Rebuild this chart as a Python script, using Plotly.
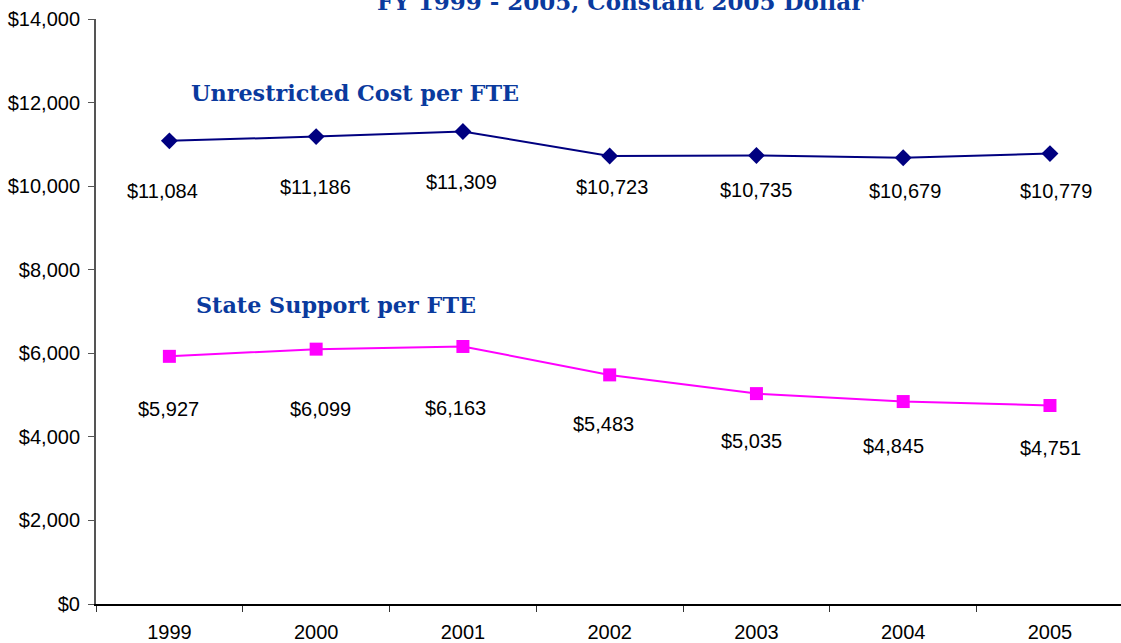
import plotly.graph_objects as go

years = ["1999", "2000", "2001", "2002", "2003", "2004", "2005"]
unrestricted = [11084, 11186, 11309, 10723, 10735, 10679, 10779]
state = [5927, 6099, 6163, 5483, 5035, 4845, 4751]
y_ticks = [0, 2000, 4000, 6000, 8000, 10000, 12000, 14000]
y_tick_text = ["$0", "$2,000", "$4,000", "$6,000", "$8,000", "$10,000", "$12,000", "$14,000"]

# label offsets (pixels) relative to points, as in the original layout
unr_dy = [-50, -50, -51, -31, -35, -33, -37]
unr_dx = [-7, -1, -1, 2, 0, 2, 6]
st_dy = [-53, -60, -62, -49, -47, -44, -43]
st_dx = [-1, 4, -7, -6, -5, -10, 1]

navy = "#000080"
magenta = "#FF00FF"
label_blue = "#0A3A9E"
sans = "Liberation Sans, Arial, sans-serif"
serif = "DejaVu Serif, serif"

fig = go.Figure()
fig.add_trace(go.Scatter(
    x=years, y=unrestricted, mode="lines+markers",
    line=dict(color=navy, width=2),
    marker=dict(symbol="diamond", size=13, color=navy),
    showlegend=False, hoverinfo="skip"))
fig.add_trace(go.Scatter(
    x=years, y=state, mode="lines+markers",
    line=dict(color=magenta, width=2),
    marker=dict(symbol="square", size=13, color=magenta),
    showlegend=False, hoverinfo="skip"))

anns = []
for i, (v, dx, dy) in enumerate(zip(unrestricted, unr_dx, unr_dy)):
    anns.append(dict(x=i, y=v, text=f"${v:,}", showarrow=False,
                     xshift=dx, yshift=dy, font=dict(family=sans, size=20, color="black")))
for i, (v, dx, dy) in enumerate(zip(state, st_dx, st_dy)):
    anns.append(dict(x=i, y=v, text=f"${v:,}", showarrow=False,
                     xshift=dx, yshift=dy, font=dict(family=sans, size=20, color="black")))

anns.append(dict(xref="paper", yref="paper", x=0.0906, y=0.8735, xanchor="left", yanchor="middle",
                 text="<b>Unrestricted Cost per FTE</b>", showarrow=False,
                 font=dict(family=serif, size=22.3, color=label_blue)))
anns.append(dict(xref="paper", yref="paper", x=0.0956, y=0.5111, xanchor="left", yanchor="middle",
                 text="<b>State Support per FTE</b>", showarrow=False,
                 font=dict(family=serif, size=22.3, color=label_blue)))
anns.append(dict(xref="paper", yref="paper", x=0.512, y=1.004, xanchor="center", yanchor="bottom",
                 text="<b>FY 1999 - 2005, Constant 2005 Dollar</b>", showarrow=False,
                 font=dict(family=serif, size=23, color=label_blue)))

fig.update_layout(
    width=1121, height=643,
    margin=dict(l=96, r=0, t=19, b=39, autoexpand=False),
    paper_bgcolor="white", plot_bgcolor="white",
    annotations=anns,
    xaxis=dict(type="category", range=[-0.5, 6.484], showgrid=False, zeroline=False,
               automargin=False,
               showline=True, linecolor="black", linewidth=1.5,
               ticks="outside", tickson="boundaries", ticklen=6, tickcolor="#333",
               ticklabelstandoff=9,
               tickfont=dict(family=sans, size=20, color="black")),
    yaxis=dict(range=[0, 14000], tickvals=y_ticks, ticktext=y_tick_text,
               showgrid=False, zeroline=False, automargin=False,
               showline=True, linecolor="#555", linewidth=2,
               ticks="outside", ticklen=6, tickcolor="#555",
               ticklabelstandoff=4,
               tickfont=dict(family=sans, size=20, color="black")),
)

fig.write_html("out.html", config={"displayModeBar": False},
               post_script="document.body.style.margin='0';document.body.style.overflow='hidden';")
